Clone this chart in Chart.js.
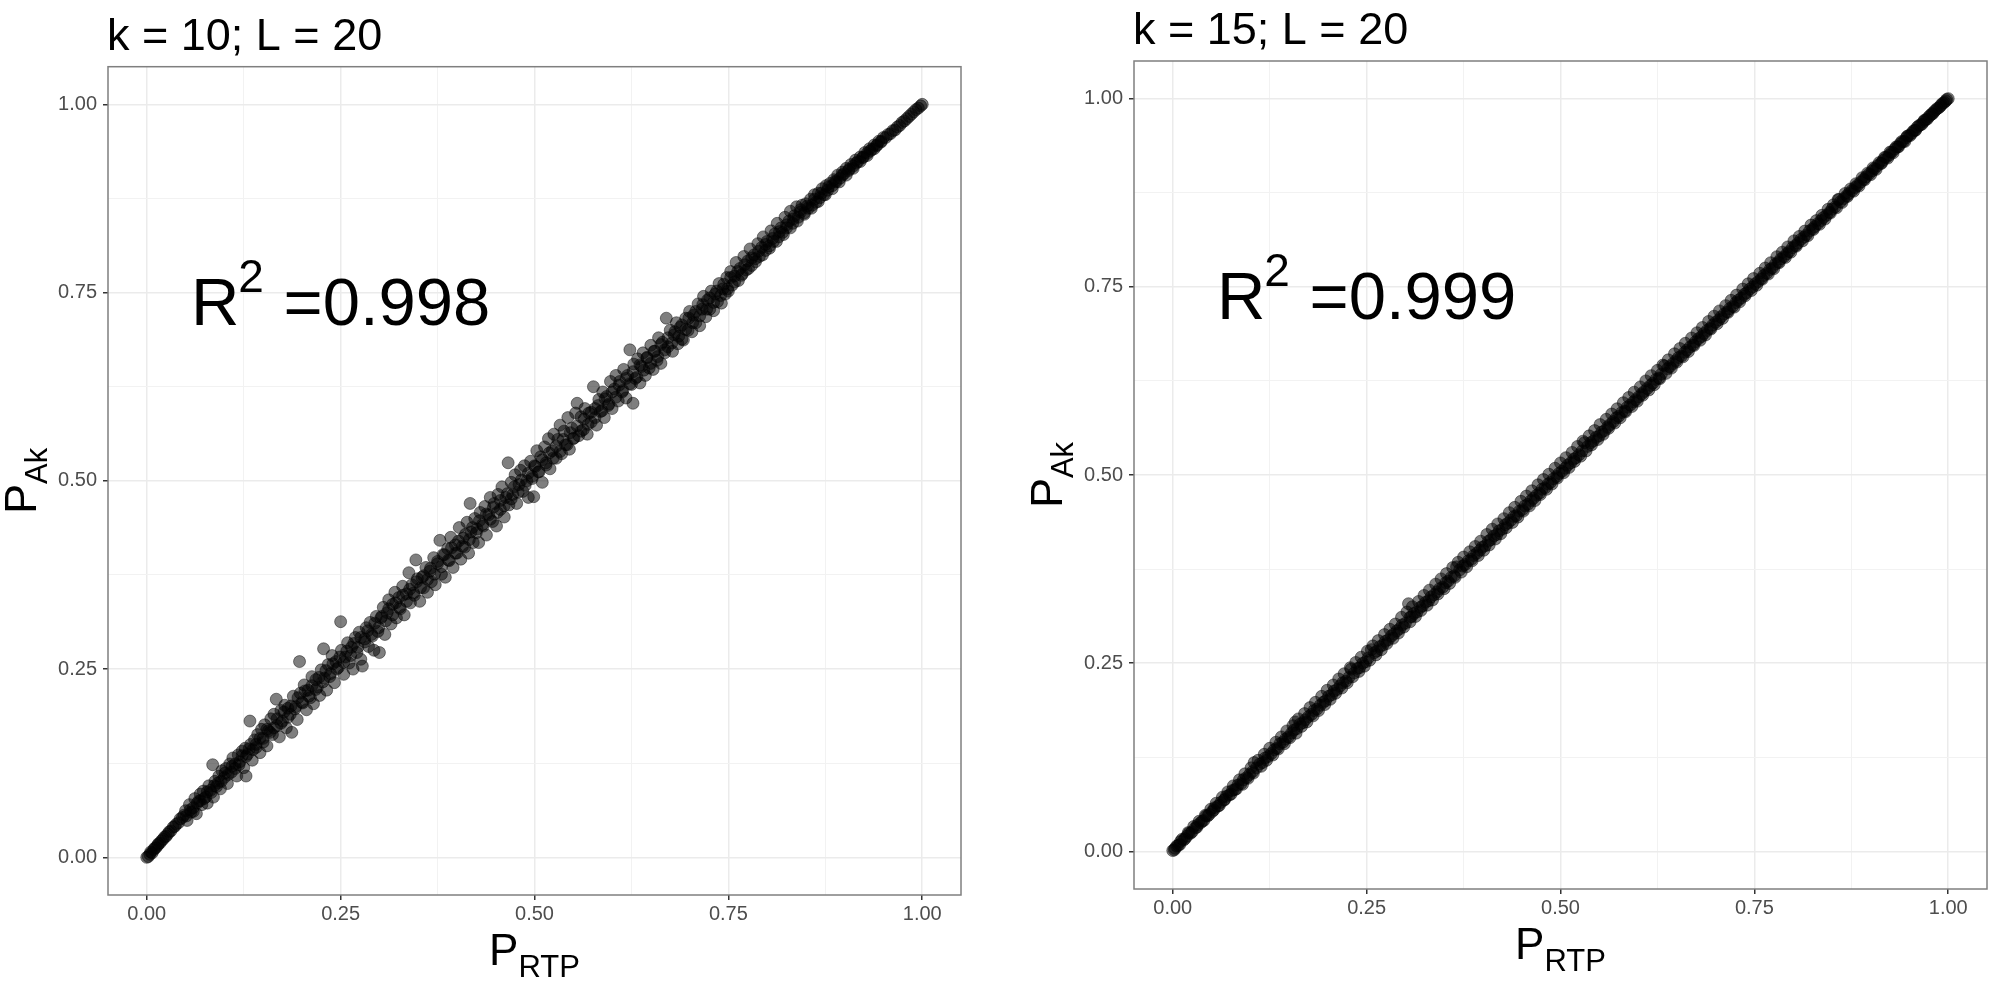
<!DOCTYPE html>
<html><head><meta charset="utf-8">
<script src="https://cdn.jsdelivr.net/npm/chart.js@4.4.1/dist/chart.umd.min.js"></script>
<style>
html,body{margin:0;padding:0;background:#fff;}
#wrap{position:relative;width:1994px;height:985px;overflow:hidden;}
canvas{position:absolute;top:0;}
#c1{left:0;} #c2{left:1000px;}
</style></head><body>
<div id="wrap"><canvas id="c1" width="1000" height="985"></canvas><canvas id="c2" width="994" height="985"></canvas></div>
<script>
const tickValues = [0, 0.25, 0.5, 0.75, 1];
const tickLabels = ['0.00', '0.25', '0.50', '0.75', '1.00'];
const minorValues = [0.125, 0.375, 0.625, 0.875];
const panelTitles = ['k = 10; L = 20', 'k = 15; L = 20'];
const r2Values = ['0.998', '0.999'];
const xTitle = ['P', 'RTP'];
const yTitle = ['P', 'Ak'];

const ptsK10 = [
[0.000,0.000],[0.002,0.001],[0.004,0.004],[0.005,0.007],[0.007,0.006],[0.009,0.010],[0.010,0.012],[0.012,0.013],[0.014,0.016],[0.015,0.018],[0.017,0.019],[0.019,0.022],[0.021,0.024],[0.023,0.027],[0.025,0.028],[0.027,0.031],[0.029,0.034],[0.031,0.035],[0.034,0.040],[0.036,0.041],[0.038,0.044],[0.041,0.046],[0.043,0.051],[0.046,0.053],[0.048,0.056],
[0.050,0.062],[0.052,0.049],[0.055,0.070],[0.057,0.060],[0.060,0.066],[0.062,0.078],[0.064,0.058],[0.067,0.075],[0.069,0.084],[0.071,0.070],[0.073,0.088],[0.076,0.080],[0.078,0.072],[0.080,0.095],[0.082,0.089],[0.085,0.123],[0.086,0.080],[0.088,0.101],[0.090,0.094],[0.093,0.108],[0.095,0.091],[0.097,0.115],[0.100,0.106],[0.102,0.118],[0.104,0.098],[0.107,0.124],[0.109,0.113],[0.111,0.132],[0.114,0.118],[0.116,0.108],[0.118,0.136],[0.120,0.127],[0.123,0.141],[0.125,0.119],[0.127,0.145],[0.128,0.108],[0.130,0.137],[0.133,0.181],[0.134,0.150],[0.136,0.129],[0.139,0.156],[0.141,0.146],[0.143,0.163],[0.146,0.139],[0.148,0.170],
[0.150,0.158],[0.152,0.176],[0.155,0.148],[0.157,0.168],[0.160,0.184],[0.162,0.163],[0.164,0.190],[0.167,0.210],[0.168,0.175],[0.171,0.160],[0.173,0.195],[0.175,0.181],[0.178,0.202],[0.180,0.172],[0.182,0.198],[0.185,0.190],[0.187,0.166],[0.189,0.214],[0.192,0.200],[0.194,0.183],[0.197,0.260],[0.198,0.218],[0.201,0.205],[0.203,0.229],[0.206,0.196],[0.208,0.222],[0.211,0.212],[0.213,0.240],[0.215,0.204],[0.218,0.236],[0.220,0.226],[0.223,0.215],[0.225,0.249],[0.228,0.277],[0.229,0.238],[0.232,0.222],[0.234,0.256],[0.237,0.244],[0.239,0.268],[0.242,0.232],[0.244,0.260],[0.247,0.252],[0.250,0.313],[0.251,0.275],[0.254,0.243],[0.256,0.266],[0.259,0.285],[0.261,0.258],[0.264,0.279],[0.266,0.250],[0.269,0.292],[0.271,0.272],[0.274,0.299],[0.276,0.263],[0.278,0.254],[0.281,0.290],[0.283,0.305],[0.286,0.280],[0.288,0.312],[0.291,0.294],[0.293,0.275],[0.296,0.320],[0.298,0.300],[0.300,0.272],
[0.302,0.318],[0.305,0.332],[0.307,0.296],[0.310,0.325],[0.312,0.342],[0.315,0.310],[0.317,0.336],[0.320,0.352],[0.322,0.318],[0.325,0.345],[0.327,0.330],[0.330,0.360],[0.332,0.322],[0.335,0.350],[0.338,0.378],[0.340,0.338],[0.342,0.362],[0.345,0.348],[0.347,0.395],[0.349,0.370],[0.352,0.340],[0.355,0.372],[0.357,0.358],[0.360,0.385],[0.362,0.352],[0.365,0.380],[0.367,0.366],[0.370,0.398],[0.372,0.362],[0.375,0.390],[0.378,0.421],[0.380,0.376],[0.382,0.402],[0.385,0.372],[0.388,0.410],[0.390,0.394],[0.392,0.425],[0.395,0.385],[0.398,0.415],[0.400,0.404],[0.403,0.438],[0.405,0.396],[0.408,0.424],[0.410,0.412],[0.413,0.445],[0.415,0.404],[0.417,0.470],[0.418,0.432],[0.421,0.418],[0.423,0.450],[0.426,0.436],[0.428,0.418],[0.430,0.458],[0.433,0.442],[0.436,0.466],[0.438,0.428],[0.441,0.455],[0.443,0.478],[0.446,0.446],[0.448,0.470],[0.451,0.440],[0.453,0.482],[0.456,0.462],[0.458,0.492],[0.461,0.452],[0.463,0.478],[0.466,0.524],[0.467,0.468],[0.470,0.498],[0.472,0.482],[0.475,0.508],[0.477,0.470],[0.480,0.495],[0.482,0.514],[0.485,0.486],[0.487,0.520],[0.490,0.500],[0.492,0.478],[0.495,0.526],[0.497,0.506],[0.499,0.479],[0.500,0.520],
[0.503,0.540],[0.505,0.512],[0.508,0.532],[0.510,0.498],[0.513,0.545],[0.515,0.524],[0.518,0.556],[0.520,0.516],[0.523,0.540],[0.525,0.562],[0.528,0.530],[0.530,0.555],[0.533,0.574],[0.535,0.536],[0.538,0.566],[0.540,0.548],[0.543,0.584],[0.545,0.542],[0.548,0.570],[0.550,0.556],[0.553,0.590],[0.555,0.603],[0.557,0.560],[0.560,0.585],[0.563,0.568],[0.565,0.596],[0.568,0.562],[0.570,0.590],[0.573,0.578],[0.576,0.625],[0.578,0.596],[0.580,0.574],[0.583,0.608],[0.585,0.592],[0.588,0.618],[0.590,0.584],[0.593,0.612],[0.595,0.600],[0.598,0.632],[0.600,0.596],[0.603,0.622],[0.605,0.640],[0.608,0.606],[0.610,0.632],[0.613,0.618],[0.615,0.648],[0.618,0.610],[0.620,0.640],[0.623,0.674],[0.625,0.628],[0.627,0.603],[0.628,0.655],[0.630,0.636],[0.633,0.662],[0.636,0.630],[0.638,0.652],[0.640,0.670],[0.643,0.640],[0.645,0.664],[0.648,0.650],[0.650,0.680],[0.653,0.648],[0.655,0.672],[0.658,0.660],[0.660,0.690],[0.663,0.656],[0.665,0.684],[0.668,0.670],[0.670,0.716],[0.672,0.678],[0.675,0.700],[0.678,0.672],[0.680,0.694],[0.683,0.710],[0.685,0.682],[0.688,0.704],[0.690,0.688],[0.692,0.687],[0.695,0.716],[0.698,0.700],[0.700,0.725],[0.703,0.698],[0.705,0.720],[0.708,0.710],[0.711,0.735],[0.713,0.706],[0.716,0.728],[0.718,0.745],[0.721,0.718],[0.723,0.740],[0.726,0.728],[0.728,0.752],[0.731,0.726],[0.733,0.748],[0.736,0.738],[0.738,0.762],[0.741,0.736],[0.743,0.755],[0.746,0.748],[0.748,0.770],
[0.750,0.752],[0.753,0.778],[0.755,0.760],[0.758,0.772],[0.760,0.790],[0.763,0.766],[0.765,0.782],[0.768,0.775],[0.770,0.798],[0.773,0.780],[0.775,0.792],[0.778,0.808],[0.780,0.786],[0.783,0.800],[0.785,0.795],[0.788,0.815],[0.790,0.798],[0.793,0.810],[0.795,0.824],[0.798,0.806],[0.800,0.818],[0.803,0.812],[0.805,0.832],[0.808,0.818],[0.810,0.828],[0.813,0.842],[0.815,0.824],[0.818,0.836],[0.820,0.830],[0.823,0.850],[0.825,0.836],[0.828,0.845],[0.830,0.858],[0.833,0.842],[0.835,0.852],[0.838,0.864],[0.840,0.850],[0.843,0.860],[0.845,0.866],[0.848,0.856],[0.850,0.868],[0.853,0.862],[0.856,0.874],[0.858,0.866],[0.861,0.880],[0.863,0.870],[0.866,0.882],[0.868,0.876],[0.871,0.888],[0.873,0.880],[0.876,0.892],[0.878,0.886],[0.881,0.895],[0.884,0.892],[0.886,0.900],[0.889,0.897],[0.891,0.906],[0.894,0.902],[0.897,0.910],[0.899,0.908],[0.902,0.915],[0.905,0.912],[0.908,0.920],[0.911,0.918],[0.914,0.926],[0.917,0.924],[0.920,0.930],[0.923,0.929],[0.926,0.936],[0.929,0.935],[0.932,0.941],[0.935,0.940],[0.938,0.946],[0.941,0.945],[0.944,0.951],[0.947,0.951],[0.950,0.956],[0.953,0.956],[0.956,0.960],[0.959,0.961],[0.962,0.965],[0.965,0.966],[0.968,0.970],[0.971,0.972],[0.974,0.976],[0.977,0.978],[0.980,0.981],[0.983,0.984],[0.986,0.987],[0.989,0.990],[0.992,0.993],[0.995,0.995],[0.998,0.998],[1.000,1.000]
];

const ptsK10core = [
[0.051,0.055],[0.056,0.063],[0.060,0.061],[0.065,0.072],[0.069,0.075],[0.074,0.078],[0.078,0.087],[0.083,0.086],[0.087,0.095],[0.092,0.099],
[0.096,0.101],[0.101,0.112],[0.105,0.110],[0.110,0.121],[0.114,0.124],[0.119,0.123],[0.123,0.135],[0.128,0.134],[0.132,0.144],[0.137,0.143],
[0.141,0.150],[0.146,0.158],[0.150,0.153],[0.155,0.170],[0.159,0.166],[0.164,0.172],[0.168,0.184],[0.173,0.178],[0.177,0.193],[0.182,0.186],
[0.186,0.201],[0.191,0.197],[0.195,0.212],[0.200,0.206],[0.204,0.221],[0.209,0.214],[0.213,0.228],[0.218,0.223],[0.222,0.239],[0.227,0.233],
[0.231,0.248],[0.236,0.240],[0.240,0.257],[0.245,0.250],[0.249,0.266],[0.254,0.259],[0.258,0.274],[0.263,0.268],[0.267,0.284],[0.272,0.279],
[0.276,0.292],[0.281,0.286],[0.285,0.301],[0.290,0.296],[0.294,0.311],[0.299,0.305],[0.303,0.320],[0.308,0.314],[0.312,0.330],[0.317,0.322],
[0.321,0.338],[0.326,0.332],[0.330,0.348],[0.335,0.340],[0.339,0.356],[0.344,0.351],[0.348,0.366],[0.353,0.358],[0.357,0.374],[0.362,0.369],
[0.366,0.384],[0.371,0.376],[0.375,0.393],[0.380,0.386],[0.384,0.402],[0.389,0.395],[0.393,0.411],[0.398,0.404],[0.402,0.420],[0.407,0.413],
[0.411,0.429],[0.416,0.422],[0.420,0.438],[0.425,0.431],[0.429,0.447],[0.434,0.440],[0.438,0.456],[0.443,0.449],[0.447,0.465],[0.452,0.458],
[0.456,0.474],[0.461,0.467],[0.465,0.483],[0.470,0.476],[0.474,0.492],[0.479,0.485],[0.483,0.501],[0.488,0.494],[0.492,0.510],[0.497,0.503],
[0.501,0.519],[0.506,0.512],[0.510,0.528],[0.515,0.521],[0.519,0.537],[0.524,0.530],[0.528,0.546],[0.533,0.539],[0.537,0.555],[0.542,0.548],
[0.546,0.564],[0.551,0.557],[0.555,0.573],[0.560,0.566],[0.564,0.582],[0.569,0.575],[0.573,0.591],[0.578,0.584],[0.582,0.600],[0.587,0.593],
[0.591,0.609],[0.596,0.602],[0.600,0.618],[0.605,0.611],[0.609,0.627],[0.614,0.620],[0.618,0.636],[0.623,0.629],[0.627,0.645],[0.632,0.638],
[0.636,0.654],[0.641,0.647],[0.645,0.663],[0.650,0.656],[0.654,0.672],[0.659,0.665],[0.663,0.681],[0.668,0.674],[0.672,0.690],[0.677,0.683],
[0.681,0.698],[0.686,0.692],[0.690,0.707],[0.695,0.701],[0.699,0.716],[0.704,0.710],[0.708,0.725],[0.713,0.719],[0.717,0.734],[0.722,0.728],
[0.726,0.743],[0.731,0.737],[0.735,0.752],[0.740,0.746],[0.744,0.761],[0.749,0.755],[0.753,0.770],[0.758,0.764],[0.762,0.778],[0.767,0.773],
[0.771,0.787],[0.776,0.782],[0.780,0.796],[0.785,0.791],[0.789,0.805],[0.794,0.800],[0.798,0.814],[0.803,0.809],[0.807,0.822],[0.812,0.818],
[0.816,0.831],[0.821,0.827],[0.825,0.840],[0.830,0.836],[0.834,0.848],[0.839,0.845],[0.843,0.857],[0.848,0.854],[0.852,0.865],[0.857,0.862],
[0.861,0.874],[0.866,0.871],[0.870,0.882],[0.875,0.880],[0.879,0.890],[0.884,0.888],[0.888,0.898],[0.893,0.897],[0.897,0.906],[0.902,0.906],
[0.906,0.914],[0.911,0.915],[0.915,0.922],[0.920,0.924],[0.924,0.930],[0.929,0.932],[0.933,0.938],[0.938,0.941],[0.942,0.946],[0.947,0.950]
];

const ptsK15 = [
[0.000,0.001],[0.003,0.004],[0.007,0.008],[0.010,0.013],[0.014,0.015],[0.018,0.020],[0.021,0.024],[0.025,0.026],[0.029,0.031],[0.032,0.035],
[0.036,0.038],[0.040,0.041],[0.043,0.047],[0.047,0.049],[0.051,0.053],[0.054,0.058],[0.058,0.060],[0.062,0.065],[0.066,0.068],[0.069,0.073],
[0.073,0.075],[0.077,0.081],[0.080,0.082],[0.084,0.088],[0.088,0.090],[0.091,0.095],[0.095,0.098],[0.099,0.102],[0.103,0.106],[0.105,0.118],
[0.108,0.111],[0.112,0.116],[0.116,0.118],[0.119,0.124],[0.123,0.126],[0.127,0.130],[0.131,0.135],[0.134,0.137],[0.138,0.143],[0.142,0.145],
[0.145,0.149],[0.149,0.152],[0.153,0.157],[0.156,0.161],[0.158,0.172],[0.160,0.163],[0.164,0.169],[0.168,0.171],[0.171,0.175],[0.175,0.179],
[0.179,0.182],[0.182,0.187],[0.186,0.189],[0.190,0.194],[0.194,0.198],[0.197,0.200],[0.201,0.206],[0.205,0.208],[0.208,0.213],[0.212,0.215],
[0.216,0.220],[0.219,0.224],[0.223,0.226],[0.227,0.231],[0.230,0.242],[0.234,0.237],[0.238,0.243],[0.241,0.244],[0.245,0.250],[0.249,0.252],
[0.252,0.257],[0.256,0.268],[0.260,0.264],[0.263,0.266],[0.267,0.272],[0.271,0.274],[0.274,0.279],[0.278,0.281],[0.282,0.286],[0.285,0.289],
[0.289,0.293],[0.293,0.296],[0.296,0.301],[0.300,0.303],[0.304,0.329],[0.306,0.311],[0.308,0.312],[0.311,0.316],[0.315,0.318],[0.319,0.324],
[0.322,0.326],[0.326,0.331],[0.330,0.333],[0.333,0.338],[0.337,0.341],[0.341,0.345],[0.344,0.349],[0.348,0.351],[0.352,0.357],[0.355,0.359],
[0.359,0.364],[0.363,0.366],[0.366,0.378],[0.370,0.374],[0.374,0.379],[0.377,0.381],[0.381,0.386],[0.385,0.388],[0.388,0.393],[0.392,0.396],
[0.396,0.400],[0.399,0.404],[0.403,0.406],[0.407,0.412],[0.410,0.414],[0.414,0.419],[0.418,0.421],[0.421,0.426],[0.425,0.428],[0.429,0.434],
[0.432,0.436],[0.436,0.440],[0.440,0.445],[0.443,0.446],[0.447,0.452],[0.451,0.454],[0.454,0.459],[0.458,0.461],[0.462,0.466],[0.465,0.469],
[0.469,0.473],[0.473,0.476],[0.476,0.481],[0.480,0.483],[0.484,0.488],[0.487,0.490],[0.491,0.495],[0.495,0.498],[0.498,0.502],[0.502,0.505],
[0.506,0.509],[0.509,0.513],[0.513,0.516],[0.517,0.521],[0.520,0.523],[0.524,0.527],[0.528,0.532],[0.531,0.543],[0.535,0.538],[0.539,0.543],
[0.542,0.545],[0.546,0.550],[0.550,0.552],[0.553,0.557],[0.557,0.559],[0.561,0.564],[0.564,0.567],[0.568,0.571],[0.572,0.576],[0.575,0.578],
[0.579,0.583],[0.583,0.585],[0.586,0.590],[0.590,0.593],[0.594,0.597],[0.597,0.600],[0.601,0.604],[0.605,0.608],[0.608,0.611],[0.612,0.615],
[0.616,0.619],[0.619,0.622],[0.623,0.627],[0.627,0.629],[0.630,0.634],[0.634,0.645],[0.638,0.641],[0.641,0.644],[0.645,0.648],[0.649,0.652],
[0.652,0.656],[0.656,0.658],[0.660,0.663],[0.663,0.666],[0.667,0.670],[0.671,0.673],[0.674,0.677],[0.678,0.681],[0.682,0.684],[0.685,0.688],
[0.689,0.692],[0.693,0.695],[0.696,0.699],[0.700,0.703],[0.704,0.706],[0.707,0.710],[0.711,0.714],[0.715,0.717],[0.718,0.721],[0.722,0.724],
[0.726,0.729],[0.729,0.732],[0.733,0.735],[0.737,0.740],[0.740,0.742],[0.744,0.747],[0.748,0.750],[0.751,0.754],[0.755,0.757],[0.759,0.761],
[0.762,0.765],[0.766,0.768],[0.770,0.773],[0.773,0.775],[0.777,0.780],[0.781,0.783],[0.784,0.787],[0.788,0.790],[0.792,0.794],[0.795,0.797],
[0.799,0.802],[0.803,0.805],[0.806,0.808],[0.810,0.813],[0.814,0.816],[0.817,0.819],[0.821,0.824],[0.825,0.827],[0.828,0.830],[0.832,0.834],
[0.836,0.838],[0.839,0.842],[0.843,0.845],[0.847,0.849],[0.850,0.853],[0.854,0.856],[0.858,0.866],[0.861,0.863],[0.865,0.867],[0.869,0.871],
[0.872,0.874],[0.876,0.878],[0.880,0.882],[0.883,0.885],[0.887,0.889],[0.891,0.893],[0.894,0.896],[0.898,0.900],[0.902,0.904],[0.905,0.907],
[0.909,0.911],[0.913,0.914],[0.916,0.918],[0.920,0.922],[0.924,0.925],[0.927,0.929],[0.931,0.933],[0.935,0.936],[0.938,0.940],[0.942,0.943],
[0.946,0.948],[0.949,0.951],[0.953,0.954],[0.957,0.958],[0.960,0.962],[0.964,0.965],[0.968,0.969],[0.971,0.972],[0.975,0.976],[0.979,0.980],
[0.982,0.983],[0.986,0.987],[0.990,0.990],[0.993,0.994],[0.997,0.997],[1.000,1.000]
];

const ptsK15core = [
[0.002,0.002],[0.005,0.007],[0.009,0.009],[0.012,0.016],[0.016,0.017],[0.020,0.025],[0.023,0.024],[0.027,0.033],[0.031,0.032],[0.034,0.040],
[0.038,0.040],[0.042,0.048],[0.045,0.047],[0.049,0.056],[0.053,0.055],[0.056,0.064],[0.060,0.061],[0.064,0.072],[0.067,0.069],[0.071,0.079],
[0.075,0.076],[0.078,0.087],[0.082,0.083],[0.086,0.095],[0.090,0.089],[0.093,0.103],[0.097,0.097],[0.101,0.111],[0.104,0.104],[0.110,0.121],
[0.114,0.113],[0.118,0.129],[0.121,0.121],[0.125,0.137],[0.129,0.128],[0.133,0.145],[0.136,0.136],[0.140,0.152],[0.144,0.143],[0.147,0.160],
[0.151,0.151],[0.155,0.167],[0.159,0.157],[0.162,0.176],[0.166,0.166],[0.170,0.183],[0.173,0.172],[0.177,0.191],[0.181,0.180],[0.184,0.198],
[0.188,0.187],[0.192,0.206],[0.196,0.195],[0.199,0.214],[0.203,0.202],[0.207,0.221],[0.210,0.210],[0.214,0.229],[0.218,0.217],[0.221,0.236],
[0.225,0.224],[0.229,0.244],[0.232,0.232],[0.236,0.251],[0.240,0.239],[0.243,0.258],[0.247,0.246],[0.251,0.266],[0.254,0.254],[0.258,0.273],
[0.262,0.261],[0.265,0.280],[0.269,0.268],[0.273,0.288],[0.276,0.276],[0.280,0.295],[0.284,0.283],[0.287,0.302],[0.291,0.290],[0.295,0.311],
[0.298,0.298],[0.302,0.318],[0.306,0.305],[0.309,0.325],[0.313,0.312],[0.317,0.332],[0.320,0.320],[0.324,0.340],[0.328,0.327],[0.331,0.347],
[0.335,0.334],[0.339,0.355],[0.342,0.342],[0.346,0.362],[0.350,0.349],[0.353,0.369],[0.357,0.356],[0.361,0.377],[0.364,0.364],[0.368,0.384],
[0.372,0.371],[0.375,0.391],[0.379,0.378],[0.383,0.398],[0.386,0.386],[0.390,0.405],[0.394,0.393],[0.397,0.412],[0.401,0.400],[0.405,0.421],
[0.408,0.407],[0.412,0.428],[0.416,0.415],[0.419,0.435],[0.423,0.422],[0.427,0.442],[0.430,0.430],[0.434,0.450],[0.438,0.437],[0.441,0.457],
[0.445,0.444],[0.449,0.465],[0.452,0.452],[0.456,0.472],[0.460,0.459],[0.463,0.479],[0.467,0.466],[0.471,0.487],[0.474,0.474],[0.478,0.494],
[0.482,0.481],[0.485,0.501],[0.489,0.488],[0.493,0.509],[0.496,0.496],[0.500,0.516],[0.504,0.503],[0.507,0.523],[0.511,0.510],[0.515,0.530],
[0.518,0.518],[0.522,0.538],[0.526,0.525],[0.529,0.545],[0.533,0.532],[0.537,0.552],[0.540,0.540],[0.544,0.559],[0.548,0.547],[0.551,0.567],
[0.555,0.554],[0.559,0.574],[0.562,0.562],[0.566,0.581],[0.570,0.569],[0.573,0.588],[0.577,0.576],[0.581,0.596],[0.584,0.584],[0.588,0.603],
[0.592,0.591],[0.595,0.610],[0.599,0.598],[0.603,0.617],[0.606,0.606],[0.610,0.625],[0.614,0.613],[0.617,0.632],[0.621,0.620],[0.625,0.639],
[0.628,0.628],[0.632,0.646],[0.636,0.635],[0.639,0.653],[0.643,0.642],[0.647,0.661],[0.650,0.650],[0.654,0.668],[0.658,0.657],[0.661,0.675],
[0.665,0.664],[0.669,0.682],[0.672,0.672],[0.676,0.689],[0.680,0.679],[0.683,0.696],[0.687,0.686],[0.691,0.704],[0.694,0.694],[0.698,0.711],
[0.702,0.701],[0.705,0.718],[0.709,0.708],[0.713,0.725],[0.716,0.716],[0.720,0.732],[0.724,0.723],[0.727,0.739],[0.731,0.730],[0.735,0.747],
[0.738,0.738],[0.742,0.754],[0.746,0.745],[0.749,0.761],[0.753,0.752],[0.757,0.768],[0.760,0.760],[0.764,0.775],[0.768,0.767],[0.771,0.782],
[0.775,0.774],[0.779,0.790],[0.782,0.782],[0.786,0.796],[0.790,0.789],[0.793,0.803],[0.797,0.796],[0.801,0.811],[0.804,0.804],[0.808,0.817],
[0.812,0.811],[0.815,0.824],[0.819,0.818],[0.823,0.832],[0.826,0.826],[0.830,0.838],[0.834,0.833],[0.837,0.845],[0.841,0.840],[0.845,0.853],
[0.848,0.848],[0.852,0.859],[0.856,0.855],[0.859,0.866],[0.863,0.862],[0.867,0.874],[0.870,0.870],[0.874,0.880],[0.878,0.877],[0.881,0.887],
[0.885,0.884],[0.889,0.895],[0.892,0.892],[0.896,0.901],[0.900,0.899],[0.903,0.908],[0.907,0.906],[0.911,0.915],[0.914,0.914],[0.918,0.922],
[0.922,0.921],[0.925,0.929],[0.929,0.928],[0.933,0.936],[0.936,0.936],[0.940,0.943],[0.944,0.943],[0.947,0.950],[0.951,0.951],[0.955,0.957],
[0.958,0.958],[0.962,0.964],[0.966,0.966],[0.969,0.971],[0.973,0.973],[0.977,0.978],[0.980,0.980],[0.984,0.985],[0.988,0.988],[0.991,0.992],
[0.995,0.995],[0.998,0.999]
];

const FONT = '"Liberation Sans", Arial, Helvetica, sans-serif';
const gridValues = tickValues.concat(minorValues).sort((a, b) => a - b);
const isMajor = v => tickValues.indexOf(v) >= 0;

function axisCfg(pos, fitSize) {
  return {
    type: 'linear', position: pos, min: -0.05, max: 1.05,
    afterBuildTicks: s => { s.ticks = gridValues.map(v => ({ value: v })); },
    afterFit: s => { if (pos === 'left') s.width = fitSize; else s.height = fitSize; },
    grid: {
      color: c => (c.tick && isMajor(c.tick.value)) ? '#EBEBEB' : '#F2F2F2',
      lineWidth: c => (c.tick && isMajor(c.tick.value)) ? 1.5 : 1,
      tickColor: c => (c.tick && isMajor(c.tick.value)) ? '#333333' : 'rgba(0,0,0,0)',
      tickLength: 5, tickWidth: 1.5, drawTicks: true
    },
    border: { display: false },
    ticks: {
      autoSkip: false, maxRotation: 0, minRotation: 0,
      padding: pos === 'left' ? 6 : 2,
      color: '#4D4D4D', font: { family: FONT, size: 20 },
      callback: v => { const i = tickValues.indexOf(v); return i >= 0 ? tickLabels[i] : ''; }
    }
  };
}

function drawSubLabel(ctx, parts, mainSize, subSize, drop) {
  ctx.font = mainSize + 'px ' + FONT;
  const w1 = ctx.measureText(parts[0]).width;
  ctx.font = subSize + 'px ' + FONT;
  const w2 = ctx.measureText(parts[1]).width;
  const x0 = -(w1 + w2) / 2;
  ctx.textAlign = 'left'; ctx.textBaseline = 'alphabetic';
  ctx.font = mainSize + 'px ' + FONT; ctx.fillText(parts[0], x0, 0);
  ctx.font = subSize + 'px ' + FONT; ctx.fillText(parts[1], x0 + w1, drop);
}

const decor = {
  id: 'decor',
  afterDraw(chart, args, opts) {
    const ctx = chart.ctx, a = chart.chartArea;
    const xs = chart.scales.x, ys = chart.scales.y;
    ctx.save();
    ctx.strokeStyle = '#7F7F7F'; ctx.lineWidth = 1.5;
    ctx.strokeRect(a.left, a.top, a.right - a.left, a.bottom - a.top);
    ctx.fillStyle = '#000';
    ctx.font = '45px ' + FONT; ctx.textAlign = 'left'; ctx.textBaseline = 'alphabetic';
    ctx.fillText(opts.title, a.left - 1, a.top - 17);
    ctx.save(); ctx.translate((a.left + a.right) / 2, a.bottom + 70);
    drawSubLabel(ctx, xTitle, 44, 31, 12); ctx.restore();
    ctx.save(); ctx.translate(a.left - 72, (a.top + a.bottom) / 2); ctx.rotate(-Math.PI / 2);
    drawSubLabel(ctx, yTitle, 45, 31, 11); ctx.restore();
    const cx = xs.getPixelForValue(0.25), base = ys.getPixelForValue(0.75) + 32.5;
    ctx.font = '67px ' + FONT; const wR = ctx.measureText('R').width;
    const rest = ' =' + opts.r2; const wRest = ctx.measureText(rest).width;
    ctx.font = '46px ' + FONT; const w2 = ctx.measureText('2').width;
    const total = wR + w2 + wRest; const x0 = cx - total / 2;
    ctx.textAlign = 'left';
    ctx.font = '67px ' + FONT; ctx.fillText('R', x0, base);
    ctx.font = '46px ' + FONT; ctx.fillText('2', x0 + wR - 1, base - 33);
    ctx.font = '67px ' + FONT; ctx.fillText(rest, x0 + wR + w2, base);
    ctx.restore();
  }
};

function ds(pts) {
  return {
    data: pts.map(p => ({ x: p[0], y: p[1] })),
    pointRadius: 6, pointHoverRadius: 6,
    backgroundColor: 'rgba(0,0,0,0.5)', borderColor: 'rgba(0,0,0,0.45)', borderWidth: 1
  };
}

function makeChart(id, sets, idx, pad, yW, xH) {
  return new Chart(document.getElementById(id), {
    type: 'scatter',
    data: { datasets: sets.map(ds) },
    options: {
      responsive: false, animation: false, devicePixelRatio: 1,
      layout: { padding: pad },
      scales: { x: axisCfg('bottom', xH), y: axisCfg('left', yW) },
      plugins: { legend: { display: false }, tooltip: { enabled: false },
        decor: { title: panelTitles[idx], r2: r2Values[idx] } },
      events: []
    },
    plugins: [decor]
  });
}

makeChart('c1', [ptsK10core, ptsK10], 0, { left: 0, top: 66.7, right: 39, bottom: 0 }, 108, 90);
makeChart('c2', [ptsK15core, ptsK15], 1, { left: 0, top: 61, right: 7, bottom: 0 }, 134, 96);
</script>
</body></html>
